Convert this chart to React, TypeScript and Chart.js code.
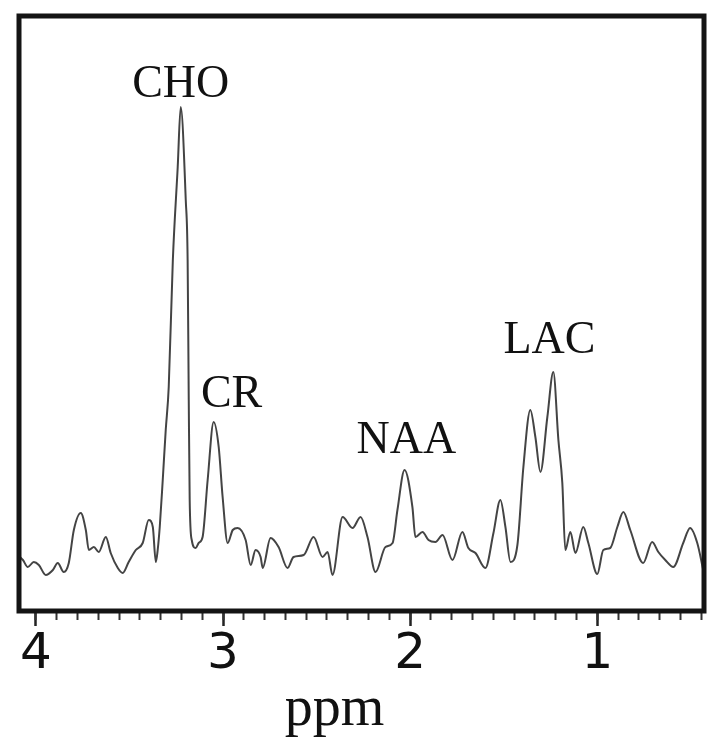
import React, { useEffect, useRef } from 'react';
import { Chart, registerables } from 'chart.js';

Chart.register(...registerables);

// Spectrum trace (chemical shift in ppm, signal in arbitrary units)
const PPM = [
  4.09, 4.08, 4.069, 4.043, 4.011, 3.984, 3.947, 3.909, 3.883, 3.851, 3.824,
  3.797, 3.76, 3.733, 3.717, 3.69, 3.664, 3.626, 3.6, 3.562, 3.536,
  3.504, 3.466, 3.429, 3.397, 3.375, 3.359, 3.349, 3.338, 3.322, 3.306,
  3.29, 3.268, 3.242, 3.226, 3.199, 3.189, 3.183, 3.178, 3.167, 3.146,
  3.13, 3.109, 3.082, 3.05, 3.023, 3.002, 2.975, 2.948, 2.922, 2.879,
  2.852, 2.826, 2.799, 2.788, 2.746, 2.703, 2.655, 2.623, 2.569, 2.516,
  2.468, 2.441, 2.415, 2.361, 2.308, 2.265, 2.228, 2.185, 2.132, 2.094,
  2.068, 2.03, 1.988, 1.972, 1.934, 1.902, 1.865, 1.827, 1.774, 1.721,
  1.689, 1.651, 1.598, 1.555, 1.518, 1.491, 1.464, 1.427, 1.395, 1.358,
  1.331, 1.304, 1.267, 1.235, 1.208, 1.187, 1.171, 1.144, 1.117, 1.075,
  1.048, 1.0, 0.968, 0.931, 0.893, 0.861, 0.824, 0.755, 0.707, 0.674,
  0.637, 0.594, 0.541, 0.504, 0.466, 0.434,
];
const INTENSITY = [
  55, 53, 51, 44, 49, 46, 36, 41, 48, 39, 48,
  81, 98, 81, 61, 64, 59, 74, 58, 43, 38,
  49, 61, 68, 91, 84, 49, 61, 84, 131, 181,
  224, 351, 444, 504, 411, 351, 211, 111, 71, 63,
  68, 74, 131, 189, 164, 114, 68, 81, 83, 71,
  46, 61, 54, 43, 73, 64, 43, 54, 56, 74,
  54, 59, 36, 94, 83, 94, 74, 39, 64, 68,
  101, 141, 104, 74, 79, 71, 69, 76, 51, 79,
  63, 58, 43, 78, 111, 84, 49, 66, 144, 201,
  174, 139, 194, 239, 171, 128, 61, 79, 58, 84,
  68, 37, 61, 63, 84, 99, 81, 48, 69, 59,
  51, 44, 68, 83, 68, 41,
];

const TICK_VALUES = [4, 3, 2, 1];
const TICK_LABELS = ['4', '3', '2', '1'];
const MINOR_STEP = 1 / 9;

const PEAK_NAMES = ['CHO', 'CR', 'NAA', 'LAC'];
const PEAK_LABEL_PPM = [3.226, 2.954, 2.02, 1.256];
const PEAK_LABEL_LEVEL = [514, 204, 158, 258];

const AXIS_TITLE = 'ppm';
const AXIS_TITLE_PPM = 2.404;

const X_MIN = 0.43;
const X_MAX = 4.09;
const Y_MIN = 0;
const Y_MAX = 595;

const SERIF = '"Liberation Serif", "Times New Roman", serif';

const frameAndLabels = {
  id: 'frameAndLabels',
  afterDatasetsDraw(chart: any) {
    const { ctx, chartArea: a, scales } = chart;
    ctx.save();
    ctx.lineWidth = 5;
    ctx.strokeStyle = '#141414';
    ctx.strokeRect(a.left, a.top, a.right - a.left, a.bottom - a.top);
    ctx.fillStyle = '#111111';
    ctx.textAlign = 'center';
    ctx.textBaseline = 'alphabetic';
    ctx.font = `46px ${SERIF}`;
    PEAK_NAMES.forEach((name, i) => {
      ctx.fillText(
        name,
        scales.x.getPixelForValue(PEAK_LABEL_PPM[i]),
        scales.y.getPixelForValue(PEAK_LABEL_LEVEL[i])
      );
    });
    ctx.font = `56px ${SERIF}`;
    ctx.fillText(AXIS_TITLE, scales.x.getPixelForValue(AXIS_TITLE_PPM), chart.height - 17);
    ctx.restore();
  },
};

export default function App() {
  const ref = useRef<HTMLCanvasElement | null>(null);

  useEffect(() => {
    if (!ref.current) return;
    const points = PPM.map((p, i) => ({ x: p, y: INTENSITY[i] }));
    const chart = new Chart(ref.current, {
      type: 'line',
      data: {
        datasets: [
          {
            data: points,
            borderColor: '#444444',
            borderWidth: 2,
            pointRadius: 0,
            fill: false,
            cubicInterpolationMode: 'monotone',
          },
        ],
      },
      options: {
        animation: false,
        responsive: false,
        devicePixelRatio: 1,
        layout: { padding: { left: 19, top: 16, right: 20, bottom: 0 } },
        plugins: { legend: { display: false }, tooltip: { enabled: false } },
        scales: {
          x: {
            type: 'linear',
            reverse: true,
            min: X_MIN,
            max: X_MAX,
            position: 'bottom',
            afterFit: (s: any) => {
              s.height = 131;
            },
            afterBuildTicks: (s: any) => {
              s.ticks = TICK_VALUES.map((v) => ({ value: v }));
            },
            border: { display: false },
            grid: {
              display: true,
              drawOnChartArea: false,
              drawTicks: true,
              tickLength: 15,
              tickWidth: 2.5,
              tickColor: '#222222',
            },
            ticks: {
              autoSkip: false,
              maxRotation: 0,
              padding: -1,
              color: '#111111',
              font: { family: '"DejaVu Sans", sans-serif', size: 50 },
              callback: (v: any) => {
                const i = TICK_VALUES.indexOf(Number(v));
                return i >= 0 ? TICK_LABELS[i] : '';
              },
            },
          },
          xMinor: {
            type: 'linear',
            axis: 'x',
            reverse: true,
            min: X_MIN,
            max: X_MAX,
            position: { y: Y_MIN },
            border: { display: false },
            grid: {
              display: true,
              drawOnChartArea: false,
              drawTicks: true,
              tickLength: 9,
              tickWidth: 2,
              tickColor: '#333333',
            },
            ticks: { display: false, stepSize: MINOR_STEP, includeBounds: false, autoSkip: false },
          },
          y: {
            type: 'linear',
            display: false,
            min: Y_MIN,
            max: Y_MAX,
          },
        },
      } as any,
      plugins: [frameAndLabels],
    });
    return () => chart.destroy();
  }, []);

  return (
    <div style={{ position: 'fixed', left: 0, top: 0, width: 724, height: 742, background: '#ffffff' }}>
      <canvas ref={ref} width={724} height={742} style={{ display: 'block' }} />
    </div>
  );
}
